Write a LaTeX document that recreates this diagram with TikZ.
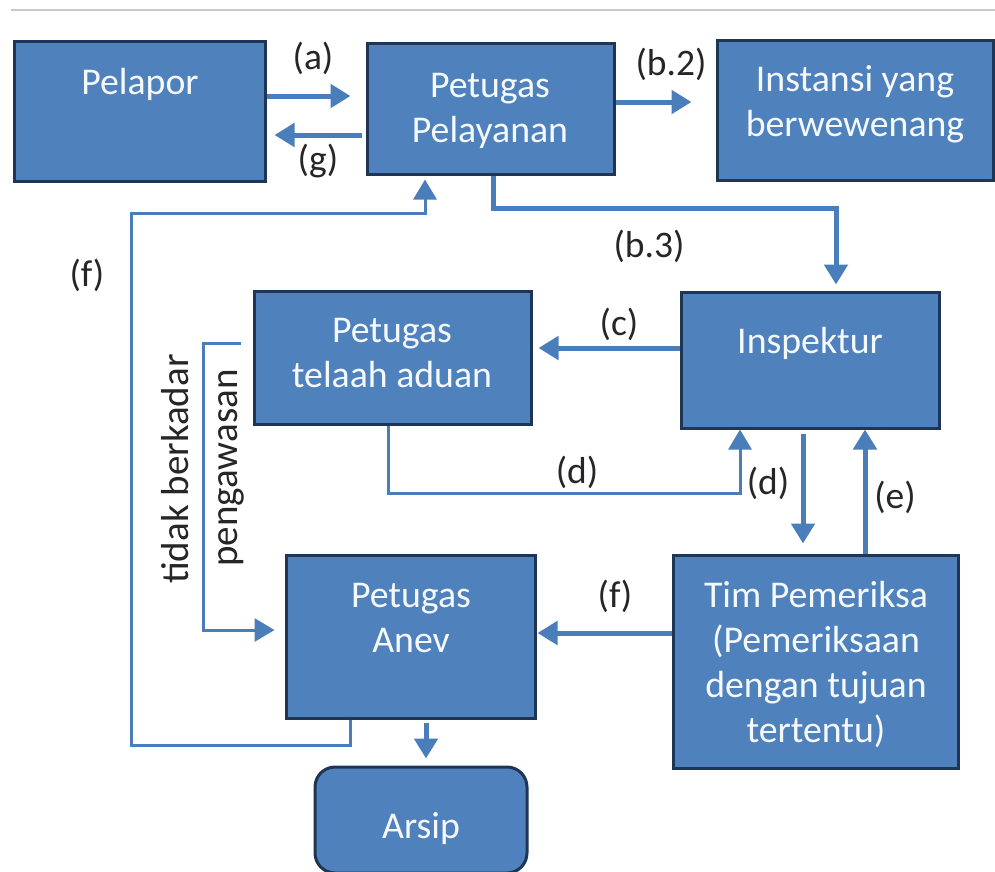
\documentclass[tikz,border=0pt]{standalone}
\usepackage{fontspec}
\setmainfont{Carlito}
\usetikzlibrary{arrows.meta}
\definecolor{boxfill}{HTML}{4F81BD}
\definecolor{boxline}{HTML}{1E3556}
\definecolor{arrowblue}{HTML}{4A7EBB}
\definecolor{labelgray}{HTML}{262626}
\definecolor{rulegray}{HTML}{C8C8C8}
\tikzset{
  box/.style={rectangle, fill=boxfill, draw=boxline, line width=3pt, inner sep=0pt},
  boxtext/.style={text=white!95!boxfill, align=center, inner sep=0pt,
    font=\fontsize{37.8}{45}\selectfont},
  lbl/.style={text=labelgray, inner sep=0pt, font=\fontsize{37.5}{45}\selectfont},
  thickarr/.style={draw=arrowblue, line width=5pt, -{Triangle[length=20pt,width=23pt]}},
  thinarr/.style={draw=arrowblue, line width=3pt, -{Triangle[length=20pt,width=23pt]}},
}
\newcommand{\sline}{\strut}
\begin{document}
\begin{tikzpicture}[x=1pt,y=-1pt]
\useasboundingbox (0,0) rectangle (995,871);
% top rule
\coordinate (r1) at (11,10);
\coordinate (r2) at (995,10);
\draw[rulegray, line width=2pt] (r1) -- (r2);

% boxes
\node[box, minimum width=251pt, minimum height=140pt] (pelapor) at (139.5,111) {};
\node[box, minimum width=247pt, minimum height=131pt] (pelayanan) at (490.5,108.5) {};
\node[box, minimum width=276pt, minimum height=140pt] (instansi) at (855,110) {};
\node[box, minimum width=277pt, minimum height=133pt] (telaah) at (392.5,357.5) {};
\node[box, minimum width=258pt, minimum height=136pt] (inspektur) at (810,360) {};
\node[box, minimum width=249pt, minimum height=163pt] (anev) at (410.5,636.5) {};
\node[box, minimum width=285pt, minimum height=213pt] (tim) at (815.5,661.5) {};
\node[box, rounded corners=20pt, minimum width=212pt, minimum height=106pt] (arsip) at (421,820) {};

% box texts
\node[boxtext] (pelapor-t) at (140,85) {\sline Pelapor};
\node[boxtext] (pelayanan-t) at (490,110.5) {\sline Petugas\\\sline Pelayanan};
\node[boxtext] (instansi-t) at (855,105) {\sline Instansi yang\\\sline berwewenang};
\node[boxtext] (telaah-t) at (392,355.5) {\sline Petugas\\\sline telaah aduan};
\node[boxtext] (inspektur-t) at (810,344) {\sline Inspektur};
\node[boxtext] (anev-t) at (411,620.5) {\sline Petugas\\\sline Anev};
\node[boxtext] (tim-t) at (816,665.5) {\sline Tim Pemeriksa\\\sline (Pemeriksaan\\\sline dengan tujuan\\\sline tertentu)};
\node[boxtext] (arsip-t) at (421,829) {\sline Arsip};

% connectors
\draw[thickarr, shorten >=15pt] (pelapor.east |- 0,96) -- (pelayanan.west |- 0,96);
\draw[thickarr, shorten <=4pt, shorten >=8pt] (pelayanan.west |- 0,135) -- (pelapor.east |- 0,135);
\draw[thickarr, shorten >=24pt] (pelayanan.east |- 0,102) -- (instansi.west |- 0,102);
\coordinate (b3) at (493,208);
\draw[thickarr, shorten >=6pt] (pelayanan.south -| b3) -- (b3) -| (inspektur.north -| 836,0);
\draw[thickarr, shorten >=6pt] (inspektur.west |- 0,348) -- (telaah.east |- 0,348);
\coordinate (d1) at (740,493);
\draw[thinarr] (telaah.south -| 388,0) |- (d1) -- (inspektur.south -| d1);
\draw[thickarr, shorten <=4pt, shorten >=10pt] (inspektur.south -| 803,0) -- (tim.north -| 803,0);
\draw[thickarr] (tim.north -| 865,0) -- (inspektur.south -| 865,0);
\draw[thickarr, shorten >=1pt] (tim.west |- 0,633) -- (anev.east |- 0,633);
\coordinate (tb) at (241,343);
\coordinate (tbc) at (203,630);
\draw[thinarr, shorten >=10pt] (tb) -| (tbc) -- (anev.west |- tbc);
\coordinate (fl1) at (131,745);
\coordinate (fl2) at (425,213);
\draw[thinarr, shorten >=4pt] (anev.south -| 350,0) |- (fl1) |- (fl2) -- (pelayanan.south -| fl2);
\draw[thickarr, shorten <=3pt, shorten >=7pt] (anev.south -| 426,0) -- (arsip.north -| 426,0);

% labels
\node[lbl] (la) at (313,58) {(a)};
\node[lbl] (lg) at (318,161) {(g)};
\node[lbl] (lb2) at (671,64) {(b.2)};
\node[lbl] (lb3) at (649,246) {(b.3)};
\node[lbl] (lc) at (619,324) {(c)};
\node[lbl] (ld1) at (577,472) {(d)};
\node[lbl] (ld2) at (768,483) {(d)};
\node[lbl] (le) at (895,497) {(e)};
\node[lbl] (lf1) at (615,596) {(f)};
\node[lbl] (lf2) at (87,275) {(f)};
\node[lbl, rotate=90, anchor=base, font=\fontsize{39}{45}\selectfont] (ltb) at (188,469) {tidak berkadar};
\node[lbl, rotate=90, anchor=base, font=\fontsize{39}{45}\selectfont] (lpw) at (237,468) {pengawasan};
\end{tikzpicture}
\end{document}
